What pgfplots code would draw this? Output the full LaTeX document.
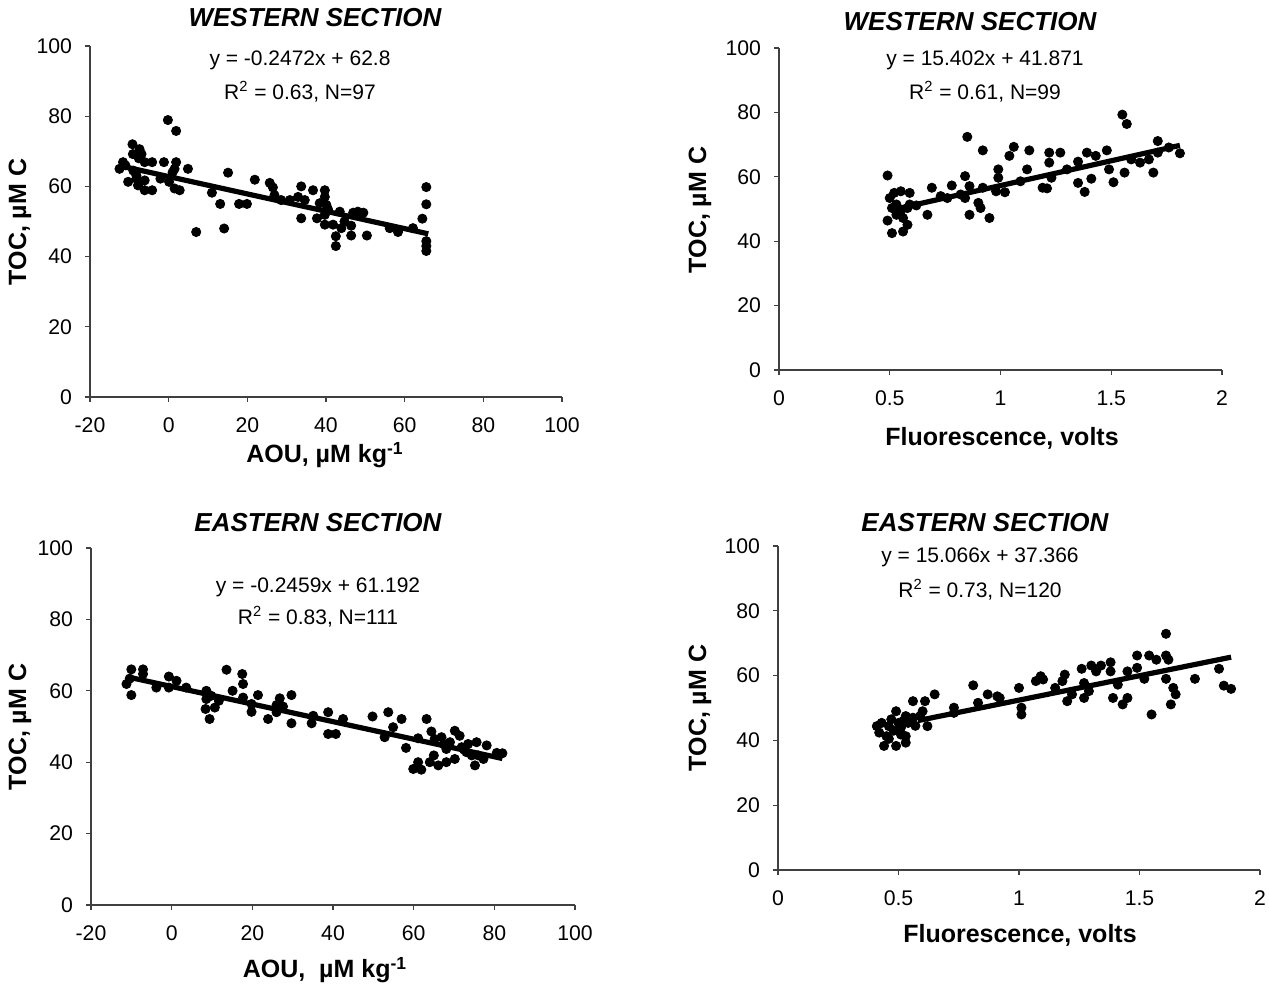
\documentclass[border=0pt]{standalone}
\usepackage{pgfplots}
\pgfplotsset{compat=1.18}
\usepackage{fontspec}
\setmainfont{Liberation Sans}

\newcommand{\tickfont}{\fontsize{10.6}{12}\selectfont}
\newcommand{\labfont}{\fontsize{12.5}{14}\selectfont\bfseries}
\newcommand{\titfont}{\fontsize{13}{15}\selectfont\bfseries\itshape}
\newcommand{\eqfont}{\fontsize{10.5}{12}\selectfont}

\pgfplotsset{
  panel/.style={
    scale only axis,
    axis lines=left,
    axis line style={-, black!75, line width=0.6pt},
    tick style={black!75, line width=0.6pt},
    tick align=outside,
    major tick length=2.5pt,
    ymin=0, ymax=100, ytick={0,20,...,100},
    tick label style={font=\tickfont},
    xticklabel style={yshift=-4.5pt},
    yticklabel style={xshift=-3pt},
    /pgf/number format/assume math mode=true,
    clip=false,
  },
  dots/.style={only marks, mark=*, mark size=2.3pt, black},
  fit/.style={black, line width=2.6pt, no marks},
}

\begin{document}
\begin{tikzpicture}
\useasboundingbox (0,0) rectangle (634.5pt,492pt);

% ---------- top left: western section, AOU ----------
\begin{axis}[panel, at={(45pt,293.5pt)}, anchor=south west,
  width=236pt, height=175.5pt,
  xmin=-20, xmax=100, xtick={-20,0,...,100}]
\addplot[dots] coordinates {
(-12.5,65.0) (-11.6,66.9) (-11.0,66.0) (-9.2,72.0) (-9.1,69.2) (-7.4,70.6)
(-7.6,68.0) (-6.9,69.2) (-6.1,66.9) (-4.2,66.9) (-10.3,61.3) (-8.2,62.2)
(-7.8,60.3) (-6.1,61.7) (-6.1,58.9) (-4.2,58.9) (-8.2,63.1) (-9.0,64.5)
(-2.1,62.2) (-1.2,66.9) (-0.2,78.9) (1.9,75.8) (1.9,66.9) (1.5,65.0)
(1.0,64.0) (0.1,61.3) (1.5,59.4) (2.8,58.9) (4.9,65.0) (7.0,47.0)
(11.0,58.2) (13.1,55.0) (14.1,48.0) (15.1,63.9) (17.9,55.0) (19.9,55.0)
(21.9,61.9) (25.7,61.0) (26.5,59.7) (26.9,57.5) (28.6,56.1) (30.8,56.1)
(32.9,57.0) (33.7,60.0) (33.7,50.9) (34.6,56.1) (36.7,58.9) (37.7,50.9)
(38.4,55.2) (39.7,58.9) (39.7,57.0) (40.1,54.7) (40.5,53.5) (39.7,51.9)
(39.7,49.1) (41.8,49.1) (42.5,45.8) (42.5,43.0) (43.5,52.8) (43.9,48.1)
(44.7,50.0) (46.4,48.8) (46.4,46.0) (46.9,52.5) (48.1,52.8) (48.9,51.9)
(49.5,52.5) (50.4,46.0) (56.2,48.1) (58.3,47.0) (62.1,48.1) (65.5,59.8)
(65.5,54.9) (64.5,50.8) (65.5,44.4) (65.5,43.0) (65.5,41.6)
};
\addplot[fit] coordinates {(-12.5,65.89) (66,46.48)};
\end{axis}
\node[font=\titfont] at (157.5pt,483pt) {WESTERN SECTION};
\node[font=\eqfont] at (150pt,462pt) {y = -0.2472x + 62.8};
\node[font=\eqfont] at (150pt,446pt) {R\textsuperscript{2} = 0.63, N=97};
\node[font=\labfont] at (162.5pt,264.5pt) {AOU, µM kg\textsuperscript{-1}};
\node[font=\labfont, rotate=90] at (10pt,381pt) {TOC, µM C};

% ---------- top right: western section, fluorescence ----------
\begin{axis}[panel, at={(389.5pt,307pt)}, anchor=south west,
  width=221.5pt, height=161pt,
  xmin=0, xmax=2, xtick={0,0.5,1,1.5,2}]
\addplot[dots] coordinates {
(0.49,60.4) (0.49,46.4) (0.51,42.5) (0.50,53.4) (0.52,55.0) (0.55,55.5)
(0.59,55.0) (0.51,50.3) (0.53,51.4) (0.53,48.2) (0.55,49.3) (0.56,47.2)
(0.56,43.0) (0.58,45.1) (0.58,50.3) (0.59,51.4) (0.62,51.1) (0.67,48.2)
(0.69,56.6) (0.73,54.0) (0.78,57.3) (0.76,53.4) (0.82,54.5) (0.84,60.2)
(0.85,72.4) (0.86,48.2) (0.86,57.1) (0.84,53.4) (0.90,51.9) (0.91,50.3)
(0.92,68.2) (0.92,56.6) (0.95,47.2) (0.98,55.5) (0.99,62.3) (0.99,59.7)
(1.02,55.2) (1.04,66.5) (1.06,69.3) (1.09,58.6) (1.12,62.3) (1.13,68.2)
(1.19,56.6) (1.21,56.4) (1.22,67.5) (1.22,64.4) (1.23,59.7) (1.27,67.5)
(1.30,62.3) (1.35,64.7) (1.35,58.1) (1.38,55.3) (1.39,67.5) (1.41,59.4)
(1.43,66.5) (1.48,68.2) (1.49,62.3) (1.51,58.3) (1.55,79.3) (1.57,76.4)
(1.56,61.3) (1.59,65.4) (1.63,64.4) (1.67,65.4) (1.69,61.3) (1.71,71.1)
(1.71,67.5) (1.81,67.3) (1.76,69.1)
};
\addplot[fit] coordinates {(0.52,49.88) (1.81,69.75)};
\end{axis}
\node[font=\titfont] at (485pt,481pt) {WESTERN SECTION};
\node[font=\eqfont] at (492.5pt,462pt) {y = 15.402x + 41.871};
\node[font=\eqfont] at (492.5pt,446pt) {R\textsuperscript{2} = 0.61, N=99};
\node[font=\labfont] at (501pt,273pt) {Fluorescence, volts};
\node[font=\labfont, rotate=90] at (350pt,387pt) {TOC, µM C};

% ---------- bottom left: eastern section, AOU ----------
\begin{axis}[panel, at={(45.5pt,39.5pt)}, anchor=south west,
  width=242pt, height=178.5pt,
  xmin=-20, xmax=100, xtick={-20,0,...,100}]
\addplot[dots] coordinates {
(-11.2,61.9) (-10.0,66.0) (-10.0,58.8) (-10.4,63.4) (-7.1,66.0) (-7.1,64.7)
(-3.8,60.9) (-0.7,64.0) (-0.7,60.9) (1.2,62.8) (3.6,60.9) (8.6,60.0)
(8.6,57.7) (8.4,54.9) (9.4,52.1) (9.8,58.6) (10.7,55.3) (11.7,57.2)
(13.6,65.9) (15.1,60.0) (17.5,64.7) (17.7,61.9) (17.7,58.1) (19.8,54.1)
(19.8,56.3) (21.4,58.8) (23.9,52.1) (26.0,56.0) (26.8,57.9) (27.6,55.6)
(26.0,54.0) (29.7,58.8) (29.7,50.9) (34.7,50.9) (35.1,53.0) (38.8,54.0)
(38.8,47.9) (40.7,47.9) (42.5,52.1) (49.8,52.8) (52.8,47.0) (53.7,54.0)
(54.9,49.8) (57.0,52.1) (58.1,44.0) (59.9,38.1) (61.1,40.0) (61.9,37.9)
(61.1,46.7) (63.2,52.1) (64.0,40.0) (65.0,41.9) (66.1,39.1) (64.4,48.6)
(65.2,46.5) (66.9,47.0) (68.1,43.7) (68.1,40.0) (69.0,45.6) (70.2,48.8)
(70.2,40.9) (71.4,47.4) (71.9,44.2) (73.1,42.8) (73.5,45.1) (75.2,39.1)
(75.6,45.6) (76.0,41.9) (77.3,40.9) (78.1,44.7) (74.4,41.9) (80.6,42.6)
(82.0,42.5) (67.5,45.0) (72.5,43.5)
};
\addplot[fit] coordinates {(-11,63.90) (82,41.03)};
\end{axis}
\node[font=\titfont] at (159pt,230.5pt) {EASTERN SECTION};
\node[font=\eqfont] at (159pt,198.5pt) {y = -0.2459x + 61.192};
\node[font=\eqfont] at (159pt,183.5pt) {R\textsuperscript{2} = 0.83, N=111};
\node[font=\labfont] at (162.5pt,7pt) {AOU,\ \ µM kg\textsuperscript{-1}};
\node[font=\labfont, rotate=90] at (10pt,128.5pt) {TOC, µM C};

% ---------- bottom right: eastern section, fluorescence ----------
\begin{axis}[panel, at={(389pt,57pt)}, anchor=south west,
  width=241pt, height=162pt,
  xmin=0, xmax=2, xtick={0,0.5,1,1.5,2}]
\addplot[dots] coordinates {
(0.41,44.4) (0.42,42.4) (0.43,45.4) (0.44,38.3) (0.45,41.3) (0.46,44.4)
(0.47,46.5) (0.49,49.0) (0.49,38.3) (0.50,45.4) (0.51,41.8) (0.51,43.9)
(0.53,39.3) (0.53,41.3) (0.53,47.5) (0.54,45.4) (0.56,52.1) (0.56,47.0)
(0.59,47.5) (0.60,49.0) (0.61,52.1) (0.62,44.4) (0.65,54.2) (0.73,50.1)
(0.73,48.5) (0.81,57.0) (0.83,51.6) (0.87,54.2) (0.91,53.6) (0.92,53.1)
(1.00,56.2) (1.01,50.1) (1.01,48.0) (1.07,58.3) (1.09,59.8) (1.10,58.8)
(1.15,56.2) (1.19,60.3) (1.18,58.3) (1.20,52.1) (1.22,54.2) (1.26,62.1)
(1.27,57.7) (1.27,53.1) (1.29,55.2) (1.30,63.1) (1.32,61.3) (1.34,63.1)
(1.38,64.1) (1.38,61.3) (1.39,53.1) (1.41,57.2) (1.43,51.1) (1.45,53.1)
(1.45,61.3) (1.49,62.4) (1.49,66.2) (1.52,59.0) (1.54,66.2) (1.55,48.0)
(1.57,64.9) (1.61,72.9) (1.61,66.2) (1.61,59.0) (1.62,64.9) (1.63,51.1)
(1.64,56.2) (1.65,54.2) (1.73,59.0) (1.83,62.1) (1.85,56.9) (1.88,55.9)
(0.48,43.0) (0.52,46.0) (0.46,40.5) (0.57,44.5)
};
\addplot[fit] coordinates {(0.58,46.10) (1.88,65.69)};
\end{axis}
\node[font=\titfont] at (492.5pt,230.5pt) {EASTERN SECTION};
\node[font=\eqfont] at (490pt,213.5pt) {y = 15.066x + 37.366};
\node[font=\eqfont] at (490pt,197pt) {R\textsuperscript{2} = 0.73, N=120};
\node[font=\labfont] at (510pt,24.5pt) {Fluorescence, volts};
\node[font=\labfont, rotate=90] at (350pt,138pt) {TOC, µM C};
\end{tikzpicture}
\end{document}
